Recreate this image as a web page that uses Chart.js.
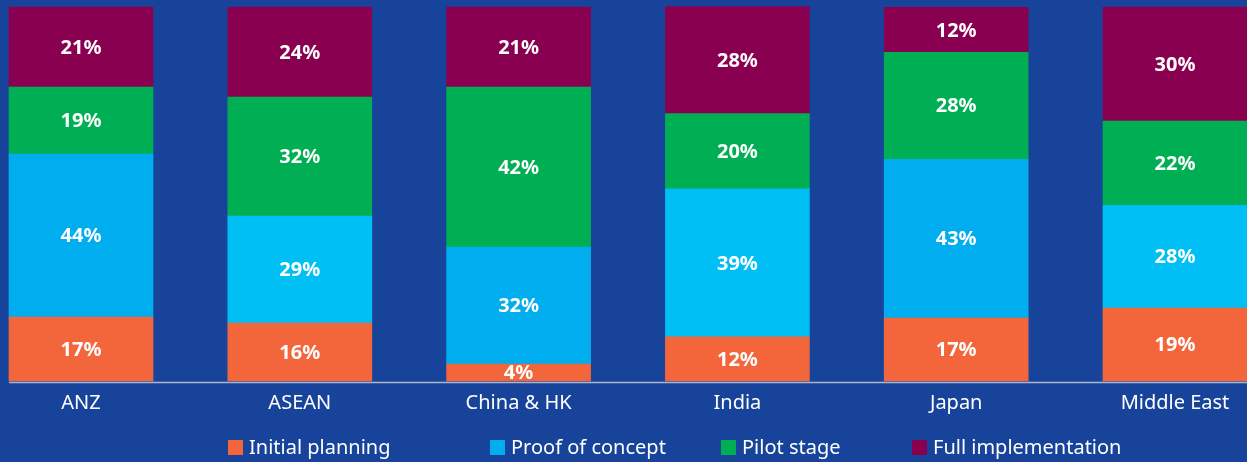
<!DOCTYPE html>
<html>
<head>
<meta charset="utf-8">
<script src="https://cdn.jsdelivr.net/npm/chart.js@4.4.1/dist/chart.umd.min.js"></script>
<style>
    html, body { margin: 0; padding: 0; background: #17449a; }
    #wrap { position: relative; width: 1247px; height: 462px; overflow: hidden; }
    #chart-legend { position: absolute; top: 435px; left: 0; width: 1247px; height: 24px; }
    .legend-item { position: absolute; top: 0; display: flex; align-items: center; color: #fff; font: 20px "Noto Sans"; line-height: 24px; white-space: nowrap; }
    .legend-color-box { display: inline-block; width: 15px; height: 15px; margin-right: 6px; }
</style>
</head>
<body>
<div id="wrap">
    <canvas id="myChart" width="1247" height="462"></canvas>
    <div id="chart-legend"></div>
</div>
<script>
// bar heights (share of each bar, in %)
const regions = ['ANZ', 'ASEAN', 'China & HK', 'India', 'Japan', 'Middle East'];
const initialPlanning = [17.1, 15.5, 4.5, 11.8, 16.8, 19.5];
const proofOfConcept = [43.6, 28.6, 31.3, 39.6, 42.5, 27.5];
const pilotStage = [17.9, 31.8, 42.8, 20.1, 28.6, 22.5];
const fullImplementation = [21.4, 24.1, 21.4, 28.6, 12.0, 30.5];

// percentages as printed inside the bars
const initialPrinted = [17, 16, 4, 12, 17, 19];
const proofPrinted = [44, 29, 32, 39, 43, 28];
const pilotPrinted = [19, 32, 42, 20, 28, 22];
const fullPrinted = [21, 24, 21, 28, 12, 30];

const legendLeft = [228, 490, 721, 912];

document.addEventListener("DOMContentLoaded", function() {
    const ctx = document.getElementById('myChart').getContext('2d');

    const barLabels = {
        id: 'barLabels',
        afterDatasetsDraw(chart) {
            const c = chart.ctx;
            c.save();
            c.font = 'bold 20px "Noto Sans"';
            c.fillStyle = '#fff';
            c.textAlign = 'center';
            c.textBaseline = 'middle';
            chart.data.datasets.forEach((ds, i) => {
                chart.getDatasetMeta(i).data.forEach((bar, j) => {
                    const p = bar.getCenterPoint();
                    c.fillText(ds.printed[j] + '%', p.x, p.y + 1);
                });
            });
            c.restore();
        }
    };

    const baseLine = {
        id: 'baseLine',
        afterDatasetsDraw(chart) {
            const c = chart.ctx;
            const first = chart.getDatasetMeta(0).data[0];
            const y = chart.scales.y.getPixelForValue(0) + 1.5;
            c.save();
            c.strokeStyle = '#aeb7c9';
            c.lineWidth = 1.5;
            c.beginPath();
            c.moveTo(first.x - first.width / 2, y);
            c.lineTo(chart.width, y);
            c.stroke();
            c.restore();
        }
    };

    const updateLegend = (chart) => {
        const legendContainer = document.getElementById('chart-legend');
        const items = chart.data.datasets.map((ds, i) => {
            const color = Array.isArray(ds.backgroundColor) ? ds.backgroundColor[0] : ds.backgroundColor;
            return `
                <div class="legend-item" style="left:${legendLeft[i]}px;">
                    <span class="legend-color-box" style="background-color:${color};"></span>
                    <span class="legend-text">${ds.label}</span>
                </div>
            `;
        });
        legendContainer.innerHTML = items.join('');
    };

    const myChart = new Chart(ctx, {
        type: 'bar',
        data: {
            labels: regions,
            datasets: [
                { label: 'Initial planning', data: initialPlanning, printed: initialPrinted, backgroundColor: '#f3663c' },
                { label: 'Proof of concept', data: proofOfConcept, printed: proofPrinted,
                  backgroundColor: ['#00adef', '#00bff4', '#00adef', '#00bff4', '#00adef', '#00bff4'] },
                { label: 'Pilot stage', data: pilotStage, printed: pilotPrinted, backgroundColor: '#00ae53' },
                { label: 'Full implementation', data: fullImplementation, printed: fullPrinted, backgroundColor: '#8a0051' }
            ].map(ds => Object.assign(ds, { barThickness: 144, borderWidth: 0, clip: false }))
        },
        options: {
            responsive: false,
            animation: false,
            layout: { padding: { top: 7, left: 81, right: 72, bottom: 37 } },
            plugins: {
                legend: { display: false },
                tooltip: { enabled: false }
            },
            scales: {
                x: {
                    stacked: true,
                    offset: false,
                    grid: { display: false, drawTicks: false },
                    border: { display: false },
                    ticks: {
                        color: '#fff',
                        autoSkip: false,
                        maxRotation: 0,
                        padding: 10,
                        font: { family: 'Noto Sans', size: 20 }
                    }
                },
                y: { stacked: true, display: false, min: 0, max: 100 }
            }
        },
        plugins: [barLabels, baseLine]
    });

    updateLegend(myChart);
});
</script>
</body>
</html>
